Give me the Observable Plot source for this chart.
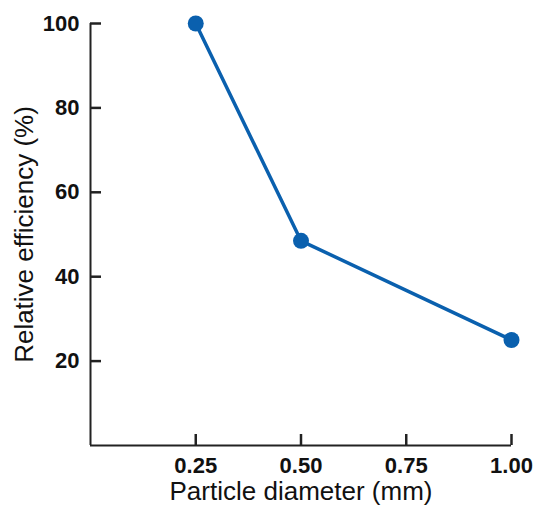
<!DOCTYPE html>
<html>
<head>
<meta charset="utf-8">
<script src="https://cdn.jsdelivr.net/npm/d3@7"></script>
<script src="https://cdn.jsdelivr.net/npm/@observablehq/plot@0.6"></script>
<style>
  html, body { margin: 0; padding: 0; background: #fff; }
</style>
</head>
<body>
<div id="chart"></div>
<script>
const diameters = [0.25, 0.5, 1.0];
const efficiency = [100, 48.5, 25];
const xTicks = [0.25, 0.5, 0.75, 1.0];
const yTicks = [20, 40, 60, 80, 100];
const xLabel = "Particle diameter (mm)";
const yLabel = "Relative efficiency (%)";

const data = diameters.map((d, i) => ({d, e: efficiency[i]}));
const color = "#0a60ae";
const axisColor = "#222";

const W = 539, H = 505, ML = 90, MR = 28, MT = 23, MB = 60;
const frameW = W - ML - MR, frameH = H - MT - MB, tickLen = 11;
const xDomain = [0, 1], yDomain = [0, 100];
// tick length expressed in each scale's units
const yTickSpan = (yDomain[1] - yDomain[0]) * tickLen / frameH;
const xTickSpan = (xDomain[1] - xDomain[0]) * tickLen / frameW;

const chart = Plot.plot({
  width: W,
  height: H,
  marginLeft: ML,
  marginRight: MR,
  marginTop: MT,
  marginBottom: MB,
  style: {fontFamily: "'Liberation Sans', Arial, sans-serif", background: "#fff", color: "#111"},
  x: {domain: xDomain},
  y: {domain: yDomain},
  marks: [
    Plot.ruleX([0], {stroke: axisColor, strokeWidth: 2}),
    Plot.ruleY([0], {stroke: axisColor, strokeWidth: 2}),
    // inward tick marks
    Plot.ruleX(xTicks, {x: d => d, y1: () => yDomain[0], y2: () => yDomain[0] + yTickSpan, stroke: axisColor, strokeWidth: 2.5}),
    Plot.ruleY(yTicks, {y: d => d, x1: () => xDomain[0], x2: () => xDomain[0] + xTickSpan, stroke: axisColor, strokeWidth: 2.5}),
    // tick labels
    Plot.axisX({ticks: xTicks, tickSize: 0, tickPadding: 12, tickFormat: d3.format(".2f"),
      fontSize: 22, fontWeight: "bold", fill: "#111", label: null}),
    Plot.axisY({ticks: yTicks, tickSize: 0, tickPadding: 11, tickFormat: d3.format("d"),
      fontSize: 22, fontWeight: "bold", fill: "#111", label: null}),
    Plot.text([xLabel], {frameAnchor: "bottom", dy: 46, lineAnchor: "middle", textAnchor: "middle", fontSize: 26, fill: "#111"}),
    Plot.text([yLabel], {frameAnchor: "left", dx: -66, rotate: -90, lineAnchor: "middle", textAnchor: "middle", fontSize: 26, fill: "#111"}),
    Plot.line(data, {x: "d", y: "e", stroke: color, strokeWidth: 3.5}),
    Plot.dot(data, {x: "d", y: "e", fill: color, r: 8})
  ]
});
document.getElementById("chart").append(chart);
</script>
</body>
</html>
